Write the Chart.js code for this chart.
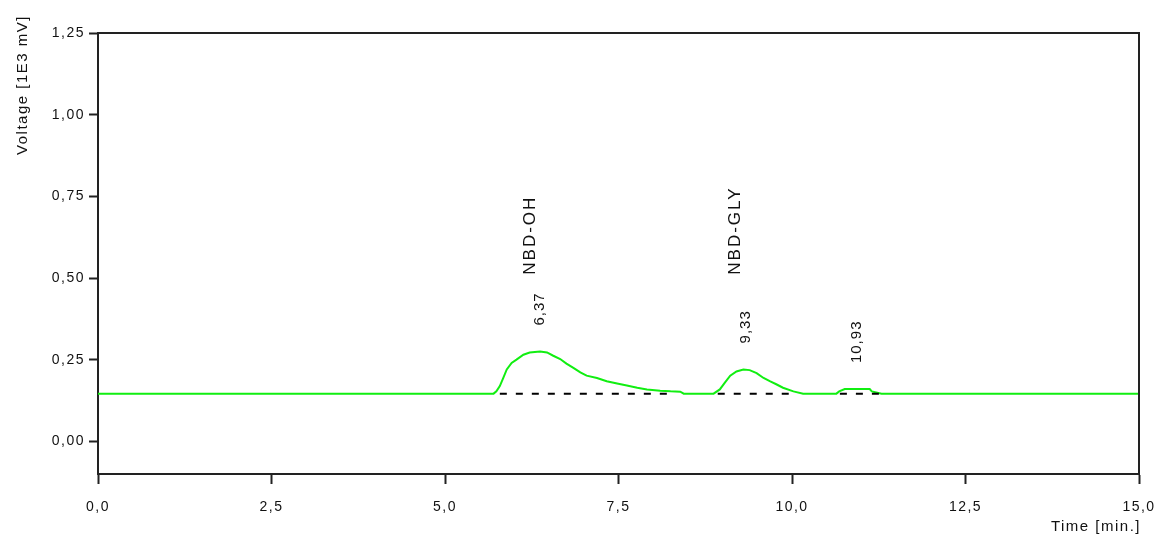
<!DOCTYPE html>
<html>
<head>
<meta charset="utf-8">
<script src="https://cdn.jsdelivr.net/npm/chart.js@4/dist/chart.umd.min.js"></script>
<style>
  html, body { margin: 0; padding: 0; background: #fff; }
  #wrap { width: 1162px; height: 540px; }
</style>
</head>
<body>
<div id="wrap"><canvas id="chromChart" width="1162" height="540"></canvas></div>
<script>
// trace (time in min, voltage in 1E3 mV)
const times = [0, 5.70, 5.74, 5.79, 5.84, 5.89, 5.96, 6.03, 6.13, 6.22, 6.37, 6.47, 6.56, 6.66, 6.75, 6.85, 6.95, 7.04, 7.19, 7.33, 7.48, 7.62, 7.77, 7.91, 8.10, 8.25, 8.39, 8.44, 8.87, 8.96, 9.03, 9.11, 9.20, 9.30, 9.39, 9.49, 9.59, 9.68, 9.78, 9.87, 10.02, 10.16, 10.64, 10.68, 10.76, 11.12, 11.15, 11.29, 15.0];
const voltage = [0.146, 0.146, 0.153, 0.169, 0.194, 0.220, 0.240, 0.250, 0.265, 0.272, 0.275, 0.272, 0.262, 0.252, 0.238, 0.225, 0.211, 0.201, 0.194, 0.184, 0.177, 0.171, 0.164, 0.159, 0.155, 0.153, 0.152, 0.146, 0.146, 0.159, 0.179, 0.201, 0.214, 0.220, 0.218, 0.209, 0.194, 0.184, 0.174, 0.164, 0.153, 0.146, 0.146, 0.153, 0.160, 0.160, 0.153, 0.146, 0.146];

// integration baselines under each peak
const baseStart = [5.79, 8.93, 10.69];
const baseEnd = [8.27, 10.01, 11.30];
const baseLevel = 0.146;

// peak annotations
const peakTimes = [6.37, 9.33, 10.93];
const peakTops = [0.275, 0.220, 0.160];
const peakNames = ['NBD-OH', 'NBD-GLY', ''];

const xTicks = [0, 2.5, 5, 7.5, 10, 12.5, 15];
const yTicks = [0, 0.25, 0.5, 0.75, 1.0, 1.25];

const comma = (v, d) => v.toFixed(d).replace('.', ',');

const baselineSets = baseStart.map((s, i) => ({
  data: [{x: s, y: baseLevel}, {x: baseEnd[i], y: baseLevel}],
  borderColor: '#000',
  borderWidth: 2,
  borderDash: [7, 9],
  pointRadius: 0,
  order: 0
}));

const boxAndText = {
  id: 'boxAndText',
  beforeDraw(chart) {
    chart.ctx.letterSpacing = '1.5px';
  },
  afterDraw(chart) {
    const {ctx, chartArea: a, scales: {x, y}} = chart;
    ctx.save();
    ctx.strokeStyle = '#222';
    ctx.lineWidth = 2;
    ctx.beginPath();
    ctx.moveTo(a.left, a.top);
    ctx.lineTo(a.right, a.top);
    ctx.lineTo(a.right, a.bottom);
    ctx.stroke();

    ctx.fillStyle = '#111';
    // axis titles
    ctx.font = '15px "Liberation Sans", Arial, sans-serif';
    ctx.letterSpacing = '1.5px';
    ctx.textAlign = 'right';
    ctx.textBaseline = 'middle';
    ctx.fillText('Time [min.]', a.right + 2, 527);
    ctx.save();
    ctx.translate(23, 15);
    ctx.rotate(-Math.PI / 2);
    ctx.textAlign = 'right';
    ctx.fillText('Voltage [1E3 mV]', 0, 0);
    ctx.restore();

    // peak labels, rotated
    peakTimes.forEach((t, i) => {
      const px = x.getPixelForValue(t);
      const py = y.getPixelForValue(peakTops[i]) - 26;
      ctx.save();
      ctx.translate(px, py);
      ctx.rotate(-Math.PI / 2);
      ctx.font = '15px "Liberation Sans", Arial, sans-serif';
      ctx.letterSpacing = '1px';
      ctx.textAlign = 'left';
      ctx.textBaseline = 'middle';
      ctx.fillText(comma(t, 2), 0, 0);
      ctx.restore();
      if (peakNames[i]) {
        ctx.save();
        ctx.translate(px - 10, y.getPixelForValue(0.51));
        ctx.rotate(-Math.PI / 2);
        ctx.font = '17px "Liberation Sans", Arial, sans-serif';
        ctx.letterSpacing = '2px';
        ctx.textAlign = 'left';
        ctx.textBaseline = 'middle';
        ctx.fillText(peakNames[i], 0, 0);
        ctx.restore();
      }
    });
    ctx.restore();
  }
};

const tickFont = {family: '"Liberation Sans", Arial, sans-serif', size: 14};

new Chart(document.getElementById('chromChart'), {
  type: 'line',
  data: {
    datasets: [
      {
        data: times.map((t, i) => ({x: t, y: voltage[i]})),
        borderColor: '#11ee11',
        borderWidth: 2,
        pointRadius: 0,
        tension: 0,
        order: 1
      },
      ...baselineSets
    ]
  },
  options: {
    responsive: false,
    animation: false,
    devicePixelRatio: 1,
    layout: {padding: {top: 33, right: 23, left: 0, bottom: 0}},
    plugins: {legend: {display: false}, tooltip: {enabled: false}},
    scales: {
      x: {
        type: 'linear',
        min: 0,
        max: 15,
        afterBuildTicks: s => { s.ticks = xTicks.map(v => ({value: v})); },
        afterFit: s => { s.height = 66; s.paddingLeft = 0; s.paddingRight = 0; },
        grid: {drawOnChartArea: false, drawTicks: true, tickLength: 10, tickColor: '#222', tickWidth: 2},
        border: {color: '#222', width: 2},
        ticks: {color: '#111', font: tickFont, padding: 15, maxRotation: 0,
          callback: v => comma(v, 1)}
      },
      y: {
        min: -0.1,
        max: 1.25,
        afterBuildTicks: s => { s.ticks = yTicks.map(v => ({value: v})); },
        afterFit: s => { s.width = 98; s.paddingTop = 0; s.paddingBottom = 0; },
        grid: {drawOnChartArea: false, drawTicks: true, tickLength: 9, tickColor: '#222', tickWidth: 2},
        border: {color: '#222', width: 2},
        ticks: {color: '#111', font: tickFont, padding: 4,
          callback: v => comma(v, 2)}
      }
    }
  },
  plugins: [boxAndText]
});
</script>
</body>
</html>
